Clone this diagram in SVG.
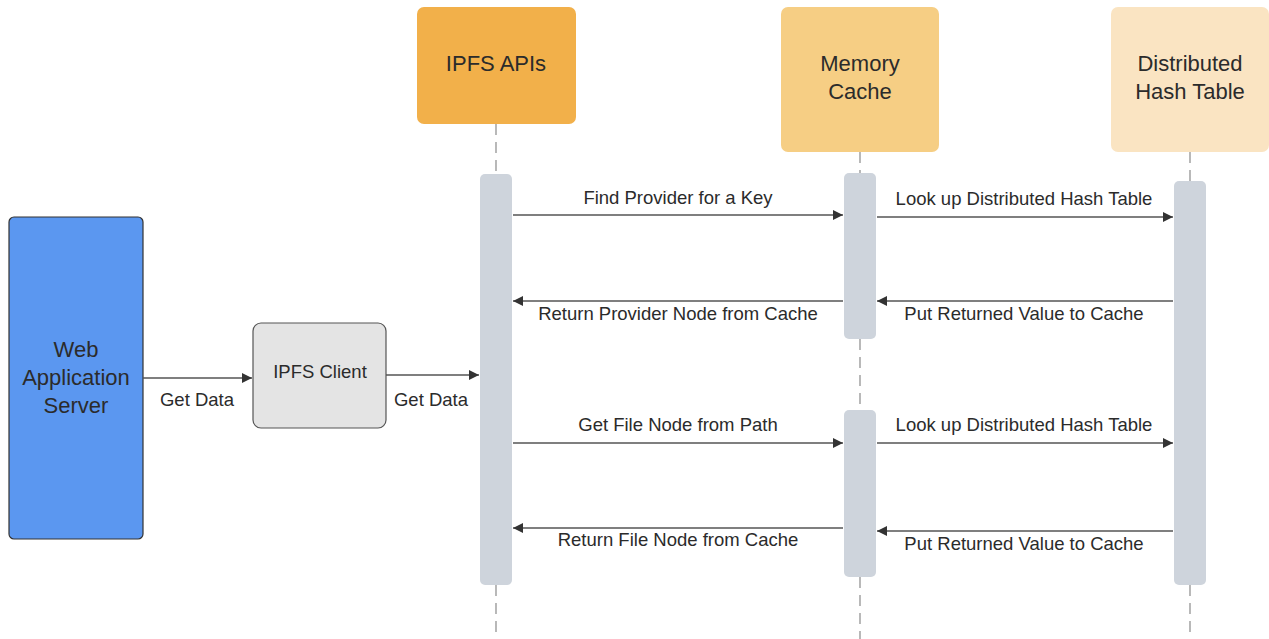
<svg xmlns="http://www.w3.org/2000/svg" width="1269" height="639" viewBox="0 0 1269 639">
<defs>
<style>
.hdr{font-family:"Liberation Sans",Arial,sans-serif;font-size:22px;fill:#2b2b2b;text-anchor:middle}
.lbl{font-family:"Liberation Sans",Arial,sans-serif;font-size:18.5px;fill:#2b2b2b;text-anchor:middle}
.life{stroke:#8a8a8a;stroke-width:1.2;stroke-dasharray:11 7;fill:none}
.bar{fill:#ced4dc}
.msg{stroke:#555;stroke-width:1.3;fill:none;marker-end:url(#ah)}
</style>
<marker id="ah" viewBox="0 0 10 10" refX="10" refY="5" markerWidth="12" markerHeight="10" markerUnits="userSpaceOnUse" orient="auto">
<path d="M0,0 L10,5 L0,10 z" fill="#333"/>
</marker>
</defs>
<rect width="1269" height="639" fill="#ffffff"/>

<g id="lifelines">
<line class="life" x1="496" y1="124" x2="496" y2="174"/>
<line class="life" x1="496" y1="585" x2="496" y2="639"/>
<line class="life" x1="860" y1="152" x2="860" y2="173"/>
<line class="life" x1="860" y1="339" x2="860" y2="410"/>
<line class="life" x1="860" y1="577" x2="860" y2="639"/>
<line class="life" x1="1190" y1="152" x2="1190" y2="181"/>
<line class="life" x1="1190" y1="585" x2="1190" y2="639"/>
</g>

<g id="web-app-server">
<rect x="9" y="217" width="134" height="322" rx="5" fill="#5b97f0" stroke="#333" stroke-width="1.2"/>
<text class="hdr" x="76" y="357">Web</text>
<text class="hdr" x="76" y="385">Application</text>
<text class="hdr" x="76" y="413">Server</text>
</g>

<g id="ipfs-client">
<rect x="253" y="323" width="133" height="105" rx="8" fill="#e4e4e4" stroke="#555" stroke-width="1.2"/>
<text class="lbl" x="320" y="378">IPFS Client</text>
</g>

<g id="ipfs-apis">
<rect x="417" y="7" width="159" height="117" rx="7" fill="#f2b04a"/>
<text class="hdr" x="496" y="71">IPFS APIs</text>
<rect class="bar" x="480" y="174" width="32" height="411" rx="5"/>
</g>

<g id="memory-cache">
<rect x="781" y="7" width="158" height="145" rx="7" fill="#f6ce84"/>
<text class="hdr" x="860" y="71">Memory</text>
<text class="hdr" x="860" y="99">Cache</text>
<rect class="bar" x="844" y="173" width="32" height="166" rx="5"/>
<rect class="bar" x="844" y="410" width="32" height="167" rx="5"/>
</g>

<g id="dht">
<rect x="1111" y="7" width="158" height="145" rx="7" fill="#fae4c2"/>
<text class="hdr" x="1190" y="71">Distributed</text>
<text class="hdr" x="1190" y="99">Hash Table</text>
<rect class="bar" x="1174" y="181" width="32" height="404" rx="5"/>
</g>

<g id="connectors">
<line class="msg" x1="143" y1="378" x2="252" y2="378"/>
<line class="msg" x1="386" y1="375" x2="479" y2="375"/>
<line class="msg" x1="513" y1="215" x2="843" y2="215"/>
<line class="msg" x1="877" y1="217" x2="1173" y2="217"/>
<line class="msg" x1="843" y1="301" x2="513" y2="301"/>
<line class="msg" x1="1173" y1="301" x2="877" y2="301"/>
<line class="msg" x1="513" y1="443" x2="843" y2="443"/>
<line class="msg" x1="877" y1="443" x2="1173" y2="443"/>
<line class="msg" x1="843" y1="528" x2="513" y2="528"/>
<line class="msg" x1="1173" y1="531" x2="877" y2="531"/>
</g>

<g id="labels">
<text class="lbl" x="197" y="406">Get Data</text>
<text class="lbl" x="431" y="406">Get Data</text>
<text class="lbl" x="678" y="204">Find Provider for a Key</text>
<text class="lbl" x="1024" y="205">Look up Distributed Hash Table</text>
<text class="lbl" x="678" y="320">Return Provider Node from Cache</text>
<text class="lbl" x="1024" y="320">Put Returned Value to Cache</text>
<text class="lbl" x="678" y="431">Get File Node from Path</text>
<text class="lbl" x="1024" y="431">Look up Distributed Hash Table</text>
<text class="lbl" x="678" y="546">Return File Node from Cache</text>
<text class="lbl" x="1024" y="550">Put Returned Value to Cache</text>
</g>
</svg>
